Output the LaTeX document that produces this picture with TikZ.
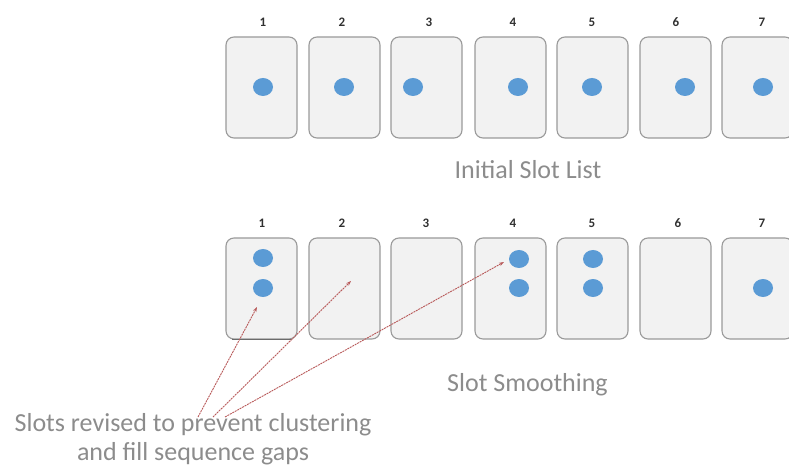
\documentclass[tikz,border=0pt]{standalone}
\usepackage{fontspec}
\setmainfont{Carlito}
\usetikzlibrary{arrows.meta,shapes.geometric}
\definecolor{boxfill}{HTML}{F2F2F2}
\definecolor{boxline}{HTML}{9A9A9A}
\definecolor{dotblue}{HTML}{5B9BD5}
\definecolor{captgray}{HTML}{8C8C8C}
\definecolor{arrred}{HTML}{B85A5A}
\definecolor{numcol}{HTML}{303030}
\begin{document}
\begin{tikzpicture}[x=1pt,y=-1pt,
  slotbox/.style={draw=boxline, fill=boxfill, line width=1.1pt, rounded corners=8pt,
    minimum width=71pt, minimum height=101pt, inner sep=0pt},
  bluedot/.style={ellipse, fill=dotblue, minimum width=20pt, minimum height=18pt, inner sep=0pt},
  numlab/.style={font=\fontsize{13}{15}\selectfont\bfseries, text=numcol, inner sep=0pt},
  caption/.style={font=\fontsize{26}{29}\selectfont, text=captgray, inner sep=0pt},
  pointer/.style={draw=arrred, line width=0.9pt, dash pattern=on 2pt off 0.8pt,
    -{Stealth[length=5pt,width=3.5pt]}}
]
\useasboundingbox (0,0) rectangle (789,470);
\clip (0,0) rectangle (789,470);
% top row
\foreach \i/\x/\lx in {1/261.5/263,2/344.5/342,3/426.5/429,4/510.5/513,5/592.5/592,6/675.5/676,7/757.5/762}{
  \node[slotbox] (t\i) at (\x,87.5) {};
  \node[numlab] (tn\i) at (\lx,22) {\i};
}
\foreach \i/\x in {1/263,2/344,3/413,4/518,5/592,6/685,7/763}{
  \node[bluedot] (td\i) at (\x,87) {};
}
\node[caption] (cap1) at (528,170) {Initial Slot List};
% bottom row
\foreach \i/\x/\lx in {1/261.5/262,2/344.5/342,3/426.5/426,4/510.5/513,5/592.5/592,6/675.5/678,7/757.5/762}{
  \node[slotbox] (b\i) at (\x,288.5) {};
  \node[numlab] (bn\i) at (\lx,223) {\i};
}
\draw[draw=boxline!70!black, line width=1.2pt] ([xshift=7pt]b1.south west) -- ([xshift=-7pt]b1.south east);
\node[bluedot] (bd1a) at (263,258) {};
\node[bluedot] (bd1b) at (263,288) {};
\node[bluedot] (bd4a) at (519,259) {};
\node[bluedot] (bd4b) at (519,288) {};
\node[bluedot] (bd5a) at (593,259) {};
\node[bluedot] (bd5b) at (593,288) {};
\node[bluedot] (bd7) at (763,288) {};
\node[caption] (cap2) at (527.5,385) {Slot Smoothing};
% annotation
\node[caption, align=center] (note) at (193,439) {Slots revised to prevent clustering\\and fill sequence gaps};
\coordinate (s1) at (198,417);
\coordinate (s2) at (213,417);
\coordinate (s3) at (225,417);
\coordinate (e1) at (257,307);
\coordinate (e2) at (351,281);
\coordinate (e3) at (504,262);
\draw[pointer] (s1) -- (e1);
\draw[pointer] (s2) -- (e2);
\draw[pointer] (s3) -- (e3);
\end{tikzpicture}
\end{document}
